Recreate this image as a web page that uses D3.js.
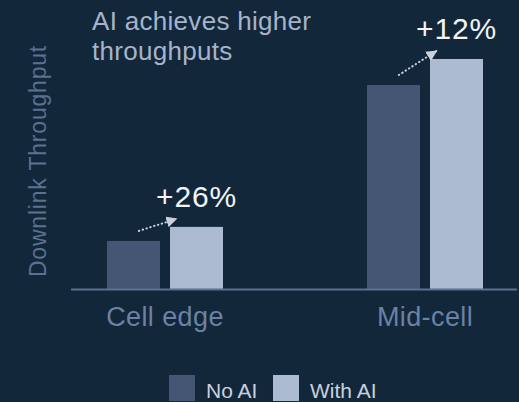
<!DOCTYPE html>
<html>
<head>
<meta charset="utf-8">
<script src="https://cdn.jsdelivr.net/npm/d3@7"></script>
<style>
  html, body { margin: 0; padding: 0; background: #13273b; }
  svg { display: block; }
  text { font-family: "Liberation Sans", Arial, sans-serif; }
</style>
</head>
<body>
<svg id="chart" width="519" height="402"></svg>
<script>
const categories = ["Cell edge", "Mid-cell"];
const series = ["No AI", "With AI"];
const noAI = [20.9, 88.7];
const withAI = [27.0, 100];
const gainLabels = ["+26%", "+12%"];
const titleLines = ["AI achieves higher", "throughputs"];
const yAxisTitle = "Downlink Throughput";

const W = 519, H = 402;
const svg = d3.select("#chart");
svg.append("rect").attr("width", W).attr("height", H).attr("fill", "#13273b");

const colors = d3.scaleOrdinal().domain(series).range(["#445674", "#adbbd2"]);

const baseY = 289;
const y = d3.scaleLinear().domain([0, 100]).range([baseY, 59]);

const x0 = d3.scaleBand().domain(categories).range([107, 483]).paddingInner(144 / 260).paddingOuter(0);
const x1 = d3.scaleBand().domain(series).range([0, x0.bandwidth()]).paddingInner(10 / 63).paddingOuter(0);

const rows = categories.map((c, i) => ({ cat: c, vals: [noAI[i], withAI[i]], gain: gainLabels[i] }));

// bars
const g = svg.append("g");
rows.forEach(r => {
  series.forEach((s, j) => {
    g.append("rect")
      .attr("x", x0(r.cat) + x1(s))
      .attr("y", y(r.vals[j]))
      .attr("width", x1.bandwidth())
      .attr("height", baseY - y(r.vals[j]))
      .attr("fill", colors(s));
  });
});

// baseline axis
const xAxis = d3.axisBottom(x0).tickSize(0).tickPadding(18);
const ax = svg.append("g").attr("transform", `translate(0,${baseY})`).call(xAxis);
ax.select(".domain").remove();
svg.append("line").attr("x1", 71).attr("x2", 517).attr("y1", baseY + 0.5).attr("y2", baseY + 0.5)
  .attr("stroke", "#5d7190").attr("stroke-width", 2);
ax.selectAll(".tick text")
  .attr("font-size", 27).attr("fill", "#6a82a4")
  .attr("letter-spacing", 0.4)
  .attr("font-family", "'Liberation Sans', Arial, sans-serif")
  .attr("dy", "0.72em");

// arrows and gain labels
const defs = svg.append("defs");
defs.append("marker").attr("id", "arrowhead").attr("viewBox", "0 0 10 10")
  .attr("refX", 9).attr("refY", 5).attr("markerWidth", 11).attr("markerHeight", 11)
  .attr("markerUnits", "userSpaceOnUse").attr("orient", "auto")
  .append("path").attr("d", "M0,0 L10,5 L0,10 Z").attr("fill", "#c9d1dd");

rows.forEach(r => {
  const bw = x1.bandwidth();
  const sx = x0(r.cat) + x1(series[0]) + bw * 0.6;
  const sy = y(r.vals[0]) - 10;
  const ex = x0(r.cat) + x1(series[1]) + bw * 0.12;
  const ey = y(r.vals[1]) - 8;
  svg.append("line").attr("x1", sx).attr("y1", sy).attr("x2", ex).attr("y2", ey)
    .attr("stroke", "#c9d1dd").attr("stroke-width", 2)
    .attr("stroke-dasharray", "0.5,3.5").attr("stroke-linecap", "round")
    .attr("marker-end", "url(#arrowhead)");
  svg.append("text")
    .attr("x", x0(r.cat) + x1(series[1]) + bw / 2)
    .attr("y", y(r.vals[1]) - 20)
    .attr("text-anchor", "middle")
    .attr("font-size", 30).attr("fill", "#f2f4f7")
    .attr("letter-spacing", 0.8)
    .text(r.gain);
});

// title
const t = svg.append("text").attr("x", 92).attr("y", 30).attr("font-size", 26).attr("fill", "#a6b4ca")
  .attr("letter-spacing", 0.3);
titleLines.forEach((l, i) => {
  t.append("tspan").attr("x", 92).attr("y", 30 + i * 30).text(l);
});

// y axis title
svg.append("text")
  .attr("transform", `translate(46,161) rotate(-90)`)
  .attr("text-anchor", "middle")
  .attr("font-size", 23).attr("fill", "#5a7191")
  .attr("letter-spacing", 0.8)
  .text(yAxisTitle);

// legend
const lg = svg.append("g");
const legendX = [169, 273];
series.forEach((s, i) => {
  lg.append("rect").attr("x", legendX[i]).attr("y", 375).attr("width", 26).attr("height", 26).attr("fill", colors(s));
  lg.append("text").attr("x", legendX[i] + 37).attr("y", 398).attr("font-size", 21).attr("fill", "#c9d1dd").text(s);
});
</script>
</body>
</html>
